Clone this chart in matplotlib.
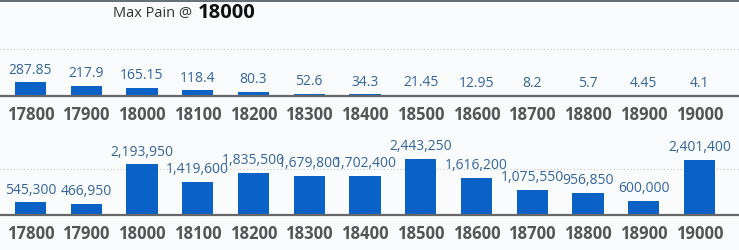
import numpy as np
import matplotlib
matplotlib.use("Agg")
import matplotlib.pyplot as plt
from matplotlib.lines import Line2D

strikes = ["17800", "17900", "18000", "18100", "18200", "18300", "18400",
           "18500", "18600", "18700", "18800", "18900", "19000"]
top_vals = [287.85, 217.9, 165.15, 118.4, 80.3, 52.6, 34.3, 21.45, 12.95, 8.2, 5.7, 4.45, 4.1]
top_labels = ["287.85", "217.9", "165.15", "118.4", "80.3", "52.6", "34.3",
              "21.45", "12.95", "8.2", "5.7", "4.45", "4.1"]
bot_vals = [545300, 466950, 2193950, 1419600, 1835500, 1679800, 1702400,
            2443250, 1616200, 1075550, 956850, 600000, 2401400]
max_pain = "18000"

plt.rcParams["font.family"] = ["Open Sans", "DejaVu Sans"]

W, H = 739, 250
BG = "#fafbfc"
BAR = "#0a62c6"
LBL = "#33659a"
TICK = "#555555"

fig = plt.figure(figsize=(W / 100, H / 100), dpi=100, facecolor=BG)


def px_axes(left, top, right, bottom):
    return fig.add_axes([left / W, 1 - bottom / H, (right - left) / W, (bottom - top) / H])


def bar_panel(ax, vals, labels, ymax, grid_at):
    x = np.arange(len(strikes))
    ax.set_facecolor("none")
    ax.axhline(grid_at, color="#c8c8c8", lw=0.8, ls=(0, (1, 2)), zorder=0)
    ax.bar(x, vals, width=0.56, color=BAR, zorder=2)
    for xi, v, s in zip(x, vals, labels):
        ax.annotate(s, (xi, v), xytext=(0, 3.5), textcoords="offset points",
                    ha="center", va="bottom", fontsize=10, color=LBL, zorder=3)
    ax.set_xlim(-0.547, 12.71)
    ax.set_ylim(0, ymax)
    ax.set_xticks(x)
    ax.set_xticklabels(strikes, fontsize=12, fontweight="bold", color=TICK)
    ax.tick_params(axis="x", length=0, pad=7.5)
    ax.set_yticks([])
    for side in ["top", "left", "right"]:
        ax.spines[side].set_visible(False)
    ax.spines["bottom"].set_color("#666666")
    ax.spines["bottom"].set_linewidth(1.6)


ax1 = px_axes(0, 20, W, 96)
bar_panel(ax1, top_vals, top_labels, 1610, 1000)

ax2 = px_axes(0, 125, W, 215)
bar_panel(ax2, bot_vals, [f"{v:,}" for v in bot_vals], 3.9e6, 2e6)

fig.text(192 / W, 1 - 13 / H, "Max Pain @", ha="right", va="center",
         fontsize=10.5, color="#333333")
fig.text(198 / W, 1 - 13 / H, max_pain, ha="left", va="center",
         fontsize=14.5, fontweight="bold", color="#111111")

fig.add_artist(Line2D([0, 1], [1 - 0.6 / H, 1 - 0.6 / H], transform=fig.transFigure,
                      color="#4b5563", lw=1.2))

fig.savefig("out.png", dpi=100, facecolor=BG)
